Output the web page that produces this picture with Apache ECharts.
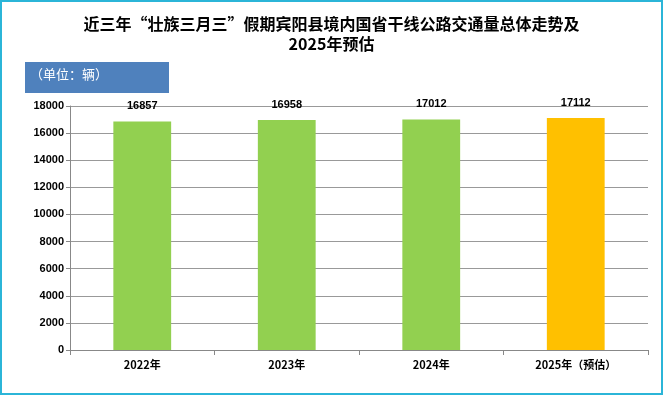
<!DOCTYPE html>
<html><head><meta charset="utf-8">
<script src="https://cdn.jsdelivr.net/npm/echarts@6/dist/echarts.min.js"></script>
<style>
html,body{margin:0;padding:0;background:#fff;}
#wrap{position:absolute;left:0;top:0;width:659px;height:391px;border:2px solid #2BB5D8;}
#c{width:659px;height:391px;}
</style></head><body>
<div id="wrap"><div id="c"></div></div>
<script>
const categories = ['2022年','2023年','2024年','2025年（预估）'];
const values = [16857, 16958, 17012, 17112];
const barColors = ['#92D050','#92D050','#92D050','#FFC000'];
const titleText = '近三年“壮族三月三”假期宾阳县境内国省干线公路交通量总体走势及\n2025年预估';
const unitText = '（单位：辆）';

const chart = echarts.init(document.getElementById('c'));
chart.setOption({
  animation:false,
  title:{text:titleText,left:'center',top:7,
    textStyle:{fontFamily:'Noto Sans CJK SC',fontSize:16,fontWeight:'bold',color:'#000',lineHeight:20}},
  graphic:[{type:'rect',left:23,top:60,shape:{width:144,height:31},style:{fill:'#4F81BD'}},
    {type:'text',left:28,top:66,style:{text:unitText,fill:'#fff',font:'13px "Noto Sans CJK SC"'}}],
  grid:{left:68,right:13,top:104,bottom:43},
  xAxis:{type:'category',data:categories,
    axisLine:{lineStyle:{color:'#888'}},
    axisTick:{show:true,length:5,lineStyle:{color:'#888'}},
    axisLabel:{color:'#000',fontWeight:'bold',fontSize:11,margin:9,fontFamily:'Noto Sans CJK SC'}},
  yAxis:{type:'value',min:0,max:18000,interval:2000,
    axisLine:{show:true,lineStyle:{color:'#888'}},
    axisTick:{show:true,length:4,lineStyle:{color:'#888'}},
    splitLine:{lineStyle:{color:'#999'}},
    axisLabel:{color:'#000',fontWeight:'bold',fontSize:11,margin:6,fontFamily:'Liberation Sans',
      formatter:v=>String(v)}},
  series:[{type:'bar',barWidth:'40%',
    data:values.map((v,i)=>({value:v,itemStyle:{color:barColors[i]}})),
    label:{show:true,position:'top',distance:10,color:'#000',fontWeight:'bold',fontSize:11,fontFamily:'Liberation Sans'}}]
});
</script></body></html>
